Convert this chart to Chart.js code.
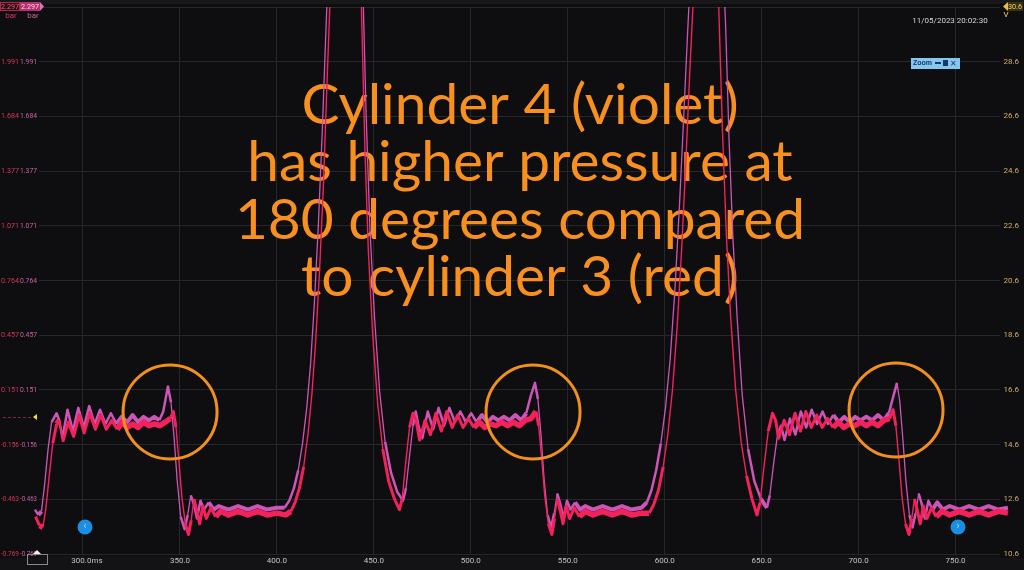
<!DOCTYPE html>
<html lang="en">
<head>
    <meta charset="UTF-8" />
    <title>Cylinder pressure</title>
    <script src="https://cdn.jsdelivr.net/npm/chart.js"></script>
    <style>
        html, body { margin: 0; padding: 0; background: #0e0e10; }
        canvas { display: block; }
    </style>
</head>
<body>
    <canvas id="scope" width="1024" height="570"></canvas>

    <script>
        // time axis (ms) and the two pressure axes
        const timeTicks = [300, 350, 400, 450, 500, 550, 600, 650, 700, 750];
        const timeTickLabels = ['300.0ms', '350.0', '400.0', '450.0', '500.0', '550.0', '600.0', '650.0', '700.0', '750.0'];
        const barTicks = [2.297, 1.991, 1.684, 1.377, 1.071, 0.764, 0.457, 0.151, -0.156, -0.463, -0.769];
        const voltTicks = [30.6, 28.6, 26.6, 24.6, 22.6, 20.6, 18.6, 16.6, 14.6, 12.6, 10.6];

        // cylinder 3 (red), ms / bar
        const cyl3Ms = [
            275.5, 277.6, 279.3, 280.8, 282.6, 284.4, 286.4, 287.8, 289.6, 292.4,
            295.2, 298.0, 300.6, 303.5, 306.4, 309.2, 312.0, 314.8, 317.6, 320.2,
            322.8, 325.6, 328.4, 331.2, 334.0, 336.8, 339.6, 342.4, 345.0, 346.6,
            348.0, 349.4, 351.0, 352.8, 354.4, 355.8, 357.2, 358.8, 360.2, 361.8,
            363.6, 366.0, 368.4, 371.0, 375.0, 380.0, 385.0, 390.0, 395.0, 400.0,
            404.5, 407.2, 409.4, 411.6, 413.8, 416.0, 418.0, 420.0, 422.0, 424.0,
            426.0, 428.0, 430.2, 432.8, 435.6, 438.4, 441.0, 443.4, 445.4, 447.2,
            449.4, 452.0, 454.6, 457.6, 460.6, 463.2, 464.6, 466.4, 468.4, 470.2,
            471.8, 473.6, 476.4, 479.2, 482.0, 484.8, 487.6, 490.4, 493.2, 496.0,
            498.8, 501.6, 504.4, 507.2, 510.0, 513.0, 516.0, 519.0, 522.0, 525.0,
            528.0, 531.0, 533.6, 535.0, 536.6, 538.2, 540.0, 541.8, 543.2, 544.6,
            546.2, 547.6, 549.2, 551.0, 553.4, 556.0, 559.0, 563.0, 568.0, 573.0,
            578.0, 583.0, 588.0, 592.0, 594.4, 596.8, 599.2, 601.6, 604.0, 606.4,
            608.8, 611.0, 613.0, 614.8, 617.2, 619.4, 621.3, 623.2, 625.4, 627.8,
            629.8, 631.8, 634.0, 636.6, 639.4, 642.2, 645.0, 647.6, 649.2, 651.2,
            653.4, 655.6, 657.2, 658.8, 661.6, 664.4, 667.2, 670.0, 672.8, 675.6,
            678.4, 681.2, 684.0, 686.8, 689.6, 692.4, 695.2, 698.0, 701.0, 704.0,
            707.0, 710.0, 713.0, 716.0, 717.8, 719.2, 720.8, 722.4, 724.2, 726.0,
            727.4, 728.8, 730.4, 731.8, 733.4, 735.2, 737.6, 740.0, 743.0, 747.0,
            752.0, 757.0, 762.0, 767.0, 772.0, 777.0
        ];
        const cyl3Bar = [
            -0.56, -0.61, -0.62, -0.52, -0.33, -0.15, -0.04, -0.02, -0.14, -0.03,
            -0.11, 0.01, -0.09, 0.02, -0.07, 0.01, -0.07, -0.02, -0.07, -0.03,
            -0.06, -0.04, -0.06, -0.03, -0.05, -0.04, -0.05, -0.03, -0.01, 0.03,
            -0.06, -0.24, -0.45, -0.60, -0.66, -0.58, -0.46, -0.53, -0.60, -0.50,
            -0.57, -0.51, -0.56, -0.53, -0.55, -0.53, -0.55, -0.53, -0.55, -0.54,
            -0.55, -0.53, -0.48, -0.40, -0.28, -0.10, 0.12, 0.42, 0.82, 1.30,
            1.92, 2.50, 3.10, 3.55, 3.78, 3.55, 3.05, 2.38, 1.50, 0.92,
            0.46, 0.07, -0.18, -0.36, -0.46, -0.52, -0.46, -0.26, -0.06, 0.02,
            -0.02, -0.13, -0.02, -0.10, 0.02, -0.08, 0.03, -0.06, 0.01, -0.06,
            -0.01, -0.06, -0.03, -0.06, -0.04, -0.05, -0.03, -0.05, -0.03, -0.05,
            -0.02, -0.01, 0.03, -0.05, -0.24, -0.45, -0.60, -0.66, -0.57, -0.46,
            -0.53, -0.60, -0.50, -0.57, -0.51, -0.56, -0.53, -0.55, -0.53, -0.55,
            -0.53, -0.55, -0.54, -0.54, -0.49, -0.41, -0.28, -0.10, 0.15, 0.50,
            0.95, 1.45, 1.95, 2.35, 2.85, 3.12, 3.20, 3.12, 2.85, 2.32,
            1.60, 1.02, 0.56, 0.15, -0.14, -0.33, -0.46, -0.55, -0.48, -0.28,
            -0.08, 0.02, -0.02, -0.12, -0.02, -0.10, 0.02, -0.08, 0.03, -0.06,
            0.01, -0.06, -0.01, -0.06, -0.03, -0.06, -0.04, -0.05, -0.03, -0.05,
            -0.03, -0.05, -0.02, -0.01, 0.04, -0.05, -0.24, -0.45, -0.60, -0.66,
            -0.57, -0.46, -0.53, -0.60, -0.50, -0.57, -0.51, -0.56, -0.53, -0.55,
            -0.53, -0.55, -0.53, -0.55, -0.53, -0.54
        ];

        // cylinder 4 (violet), ms / bar
        const cyl4Ms = [
            275.2, 277.0, 278.6, 280.2, 282.0, 283.8, 286.4, 287.8, 289.4, 292.0,
            294.8, 297.6, 300.4, 303.2, 306.0, 308.8, 311.6, 314.4, 317.2, 320.0,
            322.8, 325.6, 328.4, 331.2, 334.0, 336.8, 339.4, 341.4, 343.8, 345.4,
            347.0, 348.6, 350.4, 352.4, 354.0, 355.6, 357.2, 358.8, 360.6, 362.4,
            364.8, 367.4, 370.0, 375.0, 380.0, 385.0, 390.0, 395.0, 400.0, 404.0,
            406.4, 408.8, 411.0, 413.2, 415.4, 417.4, 419.4, 421.4, 423.4, 425.4,
            427.4, 429.8, 432.6, 435.8, 439.0, 441.6, 444.0, 446.0, 448.0, 450.4,
            453.0, 455.8, 458.8, 462.0, 465.0, 466.6, 468.4, 470.2, 471.6, 473.2,
            475.0, 477.8, 480.6, 483.4, 486.2, 489.0, 491.8, 494.6, 497.4, 500.2,
            503.0, 505.8, 508.6, 511.4, 514.2, 517.0, 520.0, 523.0, 526.0, 528.6,
            531.0, 533.1, 534.6, 536.2, 537.8, 539.6, 541.4, 543.0, 544.6, 546.2,
            547.8, 549.6, 551.4, 553.8, 556.4, 559.0, 563.0, 568.0, 573.0, 578.0,
            583.0, 588.0, 590.8, 593.2, 595.6, 598.0, 600.4, 602.8, 605.2, 607.6,
            609.8, 611.8, 613.4, 615.8, 618.6, 621.8, 625.0, 627.8, 630.0, 631.4,
            633.2, 635.2, 637.4, 640.0, 643.0, 646.2, 649.6, 652.7, 654.2, 656.2,
            658.2, 660.0, 661.8, 664.6, 667.4, 670.2, 673.0, 675.8, 678.6, 681.4,
            684.2, 687.0, 689.8, 692.6, 695.4, 698.2, 701.0, 704.0, 707.0, 710.0,
            713.0, 715.6, 717.8, 719.8, 721.2, 722.8, 724.4, 726.2, 727.8, 729.4,
            731.0, 732.6, 734.2, 736.0, 738.0, 740.6, 743.4, 747.0, 752.0, 757.0,
            762.0, 767.0, 772.0, 777.0
        ];
        const cyl4Bar = [
            -0.52, -0.55, -0.53, -0.38, -0.18, -0.03, 0.02, -0.02, -0.12, 0.04,
            -0.08, 0.05, -0.06, 0.06, -0.04, 0.04, -0.04, 0.02, -0.04, 0.00,
            -0.03, 0.01, -0.03, 0.00, -0.02, 0.00, -0.02, 0.03, 0.17, 0.08,
            -0.12, -0.36, -0.56, -0.63, -0.55, -0.44, -0.49, -0.57, -0.47, -0.52,
            -0.48, -0.52, -0.50, -0.52, -0.50, -0.52, -0.50, -0.52, -0.51, -0.51,
            -0.47, -0.40, -0.30, -0.15, 0.05, 0.30, 0.65, 1.08, 1.60, 2.20,
            2.75, 3.30, 3.72, 3.92, 3.70, 3.20, 2.55, 1.70, 1.05, 0.55,
            0.14, -0.14, -0.31, -0.42, -0.47, -0.40, -0.22, -0.05, 0.03, -0.06,
            -0.12, 0.03, -0.07, 0.05, -0.05, 0.05, -0.03, 0.03, -0.03, 0.02,
            -0.03, 0.01, -0.03, 0.00, -0.02, 0.00, -0.02, 0.01, -0.02, 0.02,
            0.12, 0.19, 0.10, -0.10, -0.35, -0.55, -0.62, -0.54, -0.43, -0.49,
            -0.57, -0.47, -0.52, -0.48, -0.52, -0.50, -0.52, -0.50, -0.52, -0.50,
            -0.52, -0.51, -0.48, -0.41, -0.30, -0.15, 0.05, 0.32, 0.70, 1.18,
            1.68, 2.15, 2.50, 3.00, 3.40, 3.55, 3.40, 3.00, 2.55, 2.20,
            1.55, 1.00, 0.55, 0.12, -0.18, -0.36, -0.46, -0.51, -0.44, -0.26,
            -0.10, -0.05, -0.13, -0.01, -0.10, 0.03, -0.06, 0.04, -0.04, 0.03,
            -0.04, 0.01, -0.03, 0.00, -0.03, 0.00, -0.02, 0.00, -0.02, 0.01,
            -0.02, 0.02, 0.11, 0.19, 0.09, -0.12, -0.36, -0.55, -0.62, -0.54,
            -0.43, -0.49, -0.57, -0.47, -0.52, -0.48, -0.52, -0.50, -0.52, -0.50,
            -0.52, -0.50, -0.52, -0.51
        ];

        // circled regions (ms, bar)
        const circleMs = [344.9, 532.1, 719.3];
        const circleBar = [0.027, 0.027, 0.038];

        const noteLines = ['Cylinder 4 (violet)', 'has higher pressure at', '180 degrees compared', 'to cylinder 3 (red)'];

        const BG = '#0e0e10';
        const smallFont = '8px "Liberation Sans Narrow", "Roboto", sans-serif';

        // thick noisy band on flat parts, thin trace on steep edges
        function traceWidth(flat, mid, steep) {
            return c => {
                const dx = Math.abs(c.p1.x - c.p0.x) || 0.01;
                const dy = Math.abs(c.p1.y - c.p0.y);
                const r = dy / dx;
                return r < 1.5 ? flat : (r < 6 ? mid : steep);
            };
        }

        const scopePlugin = {
            id: 'scope',
            beforeDraw(chart) {
                const c = chart.ctx;
                c.save();
                c.fillStyle = BG;
                c.fillRect(0, 0, chart.width, chart.height);
                c.fillStyle = '#18181b';
                c.fillRect(0, 0, chart.width, 4);
                c.fillStyle = '#131316';
                c.fillRect(0, 556, chart.width, 14);
                c.restore();
            },
            beforeDatasetsDraw(chart) {
                // annotation text
                const c = chart.ctx;
                c.save();
                c.font = '100px Lato';
                const w = c.measureText(noteLines[1]).width;
                const size = 100 * 545 / w;
                c.font = size.toFixed(1) + 'px Lato';
                c.fillStyle = '#f7901e';
                c.textAlign = 'center';
                c.textBaseline = 'alphabetic';
                const base = [124, 181, 239, 296];
                noteLines.forEach((t, i) => c.fillText(t, 520, base[i]));
                c.restore();
            },
            afterDraw(chart) {
                const c = chart.ctx;
                const xs = chart.scales.x, ys = chart.scales.y;
                c.save();

                // circles
                c.strokeStyle = '#f2901e';
                c.lineWidth = 3;
                circleMs.forEach((t, i) => {
                    c.beginPath();
                    c.arc(xs.getPixelForValue(t), ys.getPixelForValue(circleBar[i]), 47, 0, Math.PI * 2);
                    c.stroke();
                });

                c.font = smallFont;
                c.textBaseline = 'middle';

                // left pressure labels (two channels) and right volt labels
                barTicks.forEach((v, i) => {
                    const y = ys.getPixelForValue(v);
                    c.fillStyle = BG;
                    c.fillRect(0, y - 4, 39, 8);
                    c.fillRect(1000, y - 4, 24, 8);
                    if (i === 0) return;
                    c.textAlign = 'right';
                    c.fillStyle = '#d8345c';
                    c.fillText(v.toFixed(3), 19, y, 18);
                    c.fillStyle = '#c763a0';
                    c.fillText(v.toFixed(3), 37, y, 17);
                    c.fillStyle = '#cfae62';
                    c.fillText(voltTicks[i].toFixed(1), 1019, y);
                });

                // time labels
                c.textAlign = 'center';
                c.fillStyle = '#c4c4c4';
                timeTicks.forEach((t, i) => {
                    const x = xs.getPixelForValue(t) + (i === 0 ? 4 : 0);
                    c.fillText(timeTickLabels[i], x, 561);
                });

                // top-left channel badges
                c.fillStyle = '#2a0c14';
                c.strokeStyle = '#b02a48';
                c.lineWidth = 1;
                c.fillRect(0.5, 2.5, 19, 8);
                c.strokeRect(0.5, 2.5, 19, 8);
                c.fillStyle = '#b8306e';
                c.fillRect(20, 2, 20, 9);
                c.beginPath();
                c.moveTo(40, 2); c.lineTo(44, 6.5); c.lineTo(40, 11); c.closePath();
                c.fillStyle = '#e070b8';
                c.fill();
                c.textAlign = 'center';
                c.fillStyle = '#f06080';
                c.fillText(barTicks[0].toFixed(3), 10, 7, 18);
                c.fillStyle = '#ffd0e8';
                c.fillText(barTicks[0].toFixed(3), 30, 7, 18);
                c.fillStyle = '#d8345c';
                c.fillText('bar', 11, 16);
                c.fillStyle = '#c763a0';
                c.fillText('bar', 33, 16);

                // top-right volt badge
                c.fillStyle = '#e8c040';
                c.beginPath();
                c.moveTo(1003, 6.5); c.lineTo(1008, 2); c.lineTo(1008, 11); c.closePath();
                c.fill();
                c.fillStyle = '#3a300e';
                c.fillRect(1008, 2, 15, 9);
                c.fillStyle = '#f0d070';
                c.fillText(voltTicks[0].toFixed(1), 1015, 7, 14);
                c.fillText('V', 1006, 15);

                // timestamp
                c.fillStyle = '#d4d4d4';
                c.fillText('11/05/2023 20:02:30', 950, 21);

                // zoom widget
                c.fillStyle = '#86c6f0';
                c.fillRect(911, 58, 49, 11);
                c.fillStyle = '#16386a';
                c.font = 'bold 7px "Liberation Sans", sans-serif';
                c.textAlign = 'left';
                c.fillText('Zoom', 913, 63.5);
                c.fillRect(935, 62, 6, 2);
                c.fillRect(943, 60, 5, 6);
                c.font = 'bold 8px "DejaVu Sans", sans-serif';
                c.fillText('\u2715', 950, 63.5);

                // ruler handles
                [[85, '\u2039'], [958, '\u203a']].forEach(([x, s]) => {
                    c.fillStyle = '#1a8ee2';
                    c.beginPath();
                    c.arc(x, 527, 7.5, 0, Math.PI * 2);
                    c.fill();
                    c.fillStyle = '#a8d8ff';
                    c.font = '10px "DejaVu Sans", sans-serif';
                    c.textAlign = 'center';
                    c.fillText(s, x, 526);
                });

                // trigger marker
                c.strokeStyle = '#7a2a3a';
                c.setLineDash([3, 2]);
                c.beginPath();
                c.moveTo(3, 417.5); c.lineTo(31, 417.5);
                c.stroke();
                c.setLineDash([]);
                c.fillStyle = '#f2e040';
                c.beginPath();
                c.moveTo(33, 417); c.lineTo(37, 414); c.lineTo(37, 420); c.closePath();
                c.fill();

                // bottom-left window marker
                c.strokeStyle = '#8a8a8a';
                c.strokeRect(27.5, 554.5, 20, 10);
                c.fillStyle = '#f0f0f0';
                c.beginPath();
                c.moveTo(33, 554); c.lineTo(37, 550); c.lineTo(41, 554); c.closePath();
                c.fill();

                c.restore();
            }
        };

        const gridColor = '#25272b';

        new Chart(document.getElementById('scope'), {
            type: 'line',
            data: {
                datasets: [
                    {
                        label: 'Cylinder 3',
                        data: cyl3Ms.map((t, i) => ({ x: t, y: cyl3Bar[i] })),
                        borderColor: '#f2225a',
                        borderWidth: 4,
                        pointRadius: 0,
                        tension: 0,
                        borderJoinStyle: 'round',
                        segment: { borderWidth: traceWidth(5.5, 3, 1.4) }
                    },
                    {
                        label: 'Cylinder 4',
                        data: cyl4Ms.map((t, i) => ({ x: t, y: cyl4Bar[i] })),
                        borderColor: '#cc55b8',
                        borderWidth: 3,
                        pointRadius: 0,
                        tension: 0,
                        borderJoinStyle: 'round',
                        segment: { borderWidth: traceWidth(4, 2.5, 1.3) }
                    }
                ]
            },
            options: {
                responsive: false,
                animation: false,
                events: [],
                layout: { padding: { top: 7, bottom: 16, left: 0, right: 0 } },
                plugins: { legend: { display: false }, tooltip: { enabled: false } },
                scales: {
                    x: {
                        type: 'linear',
                        min: 257.2,
                        max: 785.3,
                        afterBuildTicks: a => { a.ticks = timeTicks.map(v => ({ value: v })); },
                        grid: { color: gridColor, drawTicks: false },
                        border: { display: false },
                        ticks: { display: false }
                    },
                    y: {
                        min: -0.769,
                        max: 2.297,
                        afterBuildTicks: a => { a.ticks = barTicks.map(v => ({ value: v })); },
                        grid: { color: gridColor, drawTicks: false },
                        border: { display: false },
                        ticks: { display: false }
                    }
                }
            },
            plugins: [scopePlugin]
        });
    </script>
</body>
</html>
